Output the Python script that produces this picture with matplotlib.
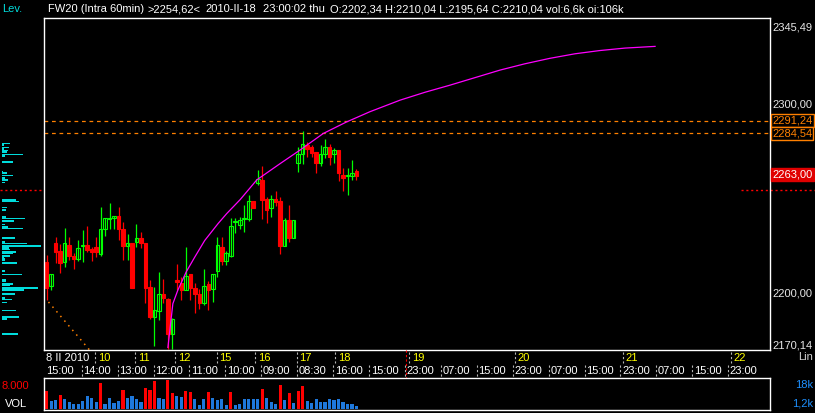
import matplotlib
matplotlib.use('Agg')
import matplotlib.pyplot as plt

plt.rcParams['font.family'] = ['Liberation Sans', 'DejaVu Sans']

# hourly bars from 8 II 2010 15:00
opens = [2216.6, 2204.0, 2226.7, 2222.3, 2216.5, 2225.5, 2219.6, 2218.2, 2225.1, 2225.5,
         2223.4, 2224.4, 2221.1, 2234.3, 2239.4, 2239.6, 2240.8, 2234.3, 2225.1, 2226.4,
         2227.2, 2229.5, 2226.4, 2203.4, 2187.6, 2190.7, 2199.9, 2197.1, 2178.8, 2207.3,
         2205.5, 2202.0, 2210.1, 2203.1, 2199.9, 2195.0, 2205.2, 2202.34, 2211.9, 2224.6,
         2217.2, 2220.0, 2237.8, 2236.2, 2239.4, 2239.2, 2248.7, 2258.1, 2259.8, 2249.8,
         2245.4, 2249.8, 2248.7, 2224.9, 2238.7, 2229.5, 2269.0, 2273.4, 2278.3, 2277.4,
         2274.5, 2269.0, 2273.4, 2277.4, 2273.4, 2275.7, 2262.5, 2262.2, 2262.1, 2264.6]
highs = [2220.2, 2210.3, 2229.9, 2226.0, 2234.5, 2229.9, 2221.4, 2228.5, 2233.4, 2235.5,
         2224.6, 2229.9, 2245.7, 2239.8, 2247.8, 2240.8, 2245.7, 2237.8, 2231.6, 2226.6,
         2236.6, 2232.5, 2226.6, 2207.3, 2203.4, 2211.4, 2207.9, 2197.8, 2187.0, 2215.4,
         2208.7, 2224.6, 2210.3, 2205.5, 2202.6, 2213.1, 2206.6, 2210.04, 2229.9, 2229.9,
         2222.4, 2239.6, 2239.6, 2240.4, 2246.6, 2251.9, 2248.9, 2265.1, 2267.2, 2251.0,
         2251.9, 2254.0, 2250.7, 2239.9, 2246.6, 2238.7, 2277.4, 2285.7, 2280.1, 2278.3,
         2274.6, 2278.3, 2281.5, 2279.2, 2276.6, 2275.7, 2266.5, 2266.5, 2270.4, 2265.5]
lows = [2196.4, 2201.7, 2216.1, 2210.8, 2214.0, 2217.9, 2212.9, 2217.0, 2216.6, 2221.9,
        2217.2, 2219.3, 2219.6, 2230.2, 2234.3, 2234.1, 2228.5, 2217.9, 2217.5, 2202.7,
        2224.6, 2224.2, 2195.0, 2186.7, 2172.1, 2186.2, 2194.7, 2170.5, 2170.9, 2201.7,
        2196.4, 2201.7, 2196.4, 2189.7, 2192.0, 2193.8, 2191.1, 2195.64, 2208.7, 2214.9,
        2214.9, 2219.3, 2232.0, 2233.9, 2232.5, 2238.3, 2245.0, 2257.2, 2239.2, 2237.3,
        2240.4, 2246.1, 2221.1, 2224.9, 2227.2, 2229.5, 2264.2, 2268.3, 2272.1, 2272.1,
        2263.4, 2267.2, 2271.3, 2267.8, 2268.7, 2259.5, 2254.2, 2251.9, 2259.8, 2259.8]
closes = [2202.9, 2210.1, 2221.9, 2216.1, 2226.5, 2219.8, 2218.1, 2224.2, 2225.5, 2222.8,
          2221.8, 2221.8, 2234.3, 2239.6, 2239.7, 2240.8, 2234.3, 2225.1, 2226.4, 2202.9,
          2229.5, 2226.4, 2202.9, 2187.6, 2191.1, 2199.9, 2197.8, 2178.4, 2186.7, 2206.1,
          2201.7, 2209.1, 2202.9, 2199.9, 2195.0, 2204.0, 2201.7, 2210.04, 2225.5, 2217.0,
          2221.4, 2235.5, 2238.3, 2238.7, 2240.1, 2248.7, 2245.2, 2260.7, 2249.3, 2244.1,
          2249.8, 2248.4, 2224.9, 2238.7, 2229.5, 2238.7, 2273.4, 2279.2, 2276.2, 2274.3,
          2269.0, 2273.6, 2277.1, 2272.1, 2275.7, 2263.4, 2261.2, 2262.5, 2263.7, 2262.3]
volumes = [10730, 4680, 5270, 8190, 6240, 4100, 3320, 2930, 5070, 7610,
           6830, 4100, 15410, 3320, 6830, 3710, 4680, 11120, 6830, 7610,
           5850, 4100, 12290, 11120, 16380, 6830, 5850, 17360, 9560, 7610,
           7220, 10730, 10340, 6050, 2730, 5850, 10340, 6600, 5460, 5850,
           2730, 10340, 2340, 3320, 5850, 5850, 5850, 5850, 11700, 6830,
           4100, 2930, 14240, 5660, 9560, 3710, 10730, 13460, 4680, 3710,
           5850, 4490, 4100, 5850, 5460, 5850, 4490, 3320, 3320, 1950]

# projection curve (bar index, price)
curve_x = [27.0, 28.1, 29.2, 31.1, 33.0, 35.2, 38.2, 40.1, 43.1, 46.8, 52.0,
           56.4, 61.6, 66.8, 72.0, 78.7, 84.3, 89.8, 95.4, 101.0, 106.5,
           112.1, 117.7, 123.2, 128.8, 135.5]
curve_y = [2171.5, 2194.6, 2201.7, 2211.5, 2219.3, 2228.0, 2237.0, 2242.2, 2249.6, 2260.0, 2268.6,
           2275.7, 2284.5, 2290.6, 2296.0, 2302.1, 2306.3, 2310.0, 2314.0, 2318.0, 2321.3,
           2324.2, 2326.6, 2328.3, 2329.6, 2330.5]

trend_x = [0.4, 9.6]
trend_y = [2195.5, 2170.0]

levels = [2291.24, 2284.54]
level_labels = ['2291,24', '2284,54']
last_price = 2263.00
cursor_price = 2254.62
price_top, price_bottom = 2345.49, 2170.14
vol_limit = 8000

# volume at price (left column)
profile_price = [2279.2, 2278.2, 2277.1, 2276.4, 2275.5, 2274.5, 2273.4, 2272.4, 2269.2, 2264.4,
                 2263.4, 2262.3, 2261.2, 2260.5, 2259.7, 2258.6, 2249.6, 2248.6, 2245.4, 2244.3,
                 2240.6, 2239.6, 2238.5, 2236.4, 2235.3, 2234.3, 2229.5, 2227.4, 2226.4, 2225.3,
                 2224.2, 2223.2, 2222.1, 2221.1, 2220.0, 2219.3, 2218.4, 2217.4, 2216.3, 2212.1,
                 2210.0, 2207.3, 2206.3, 2205.2, 2204.2, 2203.1, 2202.0, 2199.9, 2197.8, 2196.8,
                 2195.2, 2191.0, 2187.8, 2186.7, 2178.8]
profile_size = [8, 2, 7, 2, 6, 5, 21, 3, 11, 1,
                5, 11, 3, 3, 6, 3, 14, 17, 5, 4,
                4, 23, 12, 3, 6, 21, 13, 3, 25, 39,
                7, 8, 14, 11, 8, 2, 3, 3, 15, 3,
                20, 4, 4, 11, 8, 36, 22, 13, 3, 10,
                5, 14, 17, 5, 16]

time_labels = ['15:00', '14:00', '13:00', '12:00', '11:00', '10:00', '09:00', '08:30', '16:00', '15:00',
               '23:00', '07:00', '15:00', '23:00', '07:00', '15:00', '23:00', '07:00', '15:00', '23:00']
bars_per_tick = 8
day_labels = ['10', '11', '12', '15', '16', '17', '18', '19', '20', '21', '22']
day_pos = [10.8, 19.7, 28.6, 37.9, 46.4, 55.7, 64.2, 80.8, 104.3, 128.3, 152.4]

W, H = 815, 413
RED = '#ff0000'
GREEN = '#00ff00'
BLUE = '#1e78dc'
ORANGE = '#ff8000'
CYAN = '#00dcdc'
YELLOW = '#ffff00'
GREY = '#b4b4b4'
FS = 8

fig = plt.figure(figsize=(W / 100, H / 100), dpi=100, facecolor='black')


def box(x0, y0, x1, y1):
    return [x0 / W, 1 - y1 / H, (x1 - x0) / W, (y1 - y0) / H]


def ftext(x, y, s, **kw):
    kw.setdefault('fontsize', FS)
    kw.setdefault('va', 'center')
    fig.text(x / W, 1 - y / H, s, **kw)


xlim = (-0.6, 161.1)

# main price panel
ax = fig.add_axes(box(44, 18, 770, 350))
ax.set_facecolor('black')
for sp in ax.spines.values():
    sp.set_color('white')
    sp.set_linewidth(1)
ax.set_xticks([])
ax.set_yticks([])
ax.set_xlim(*xlim)
ax.set_ylim(price_bottom, price_top)

idx = list(range(len(opens)))
up = [c >= o for o, c in zip(opens, closes)]
col = [GREEN if u else RED for u in up]
ax.vlines(idx, lows, highs, colors=col, lw=0.9)
bottoms = [min(o, c) for o, c in zip(opens, closes)]
heights = [max(abs(c - o), 0.6) for o, c in zip(opens, closes)]
ax.bar(idx, heights, bottom=bottoms, width=0.8,
       color=['black' if u else RED for u in up], edgecolor=col, linewidth=0.8)

for lv in levels:
    ax.axhline(lv, color=ORANGE, lw=0.9, ls=(0, (3, 3)))
ax.plot(curve_x, curve_y, color='#ff00ff', lw=0.9)
ax.plot(trend_x, trend_y, color=ORANGE, lw=1.1, ls=(0, (1, 3)))

# right price scale
yt = ax.get_yaxis_transform()
xl = (772 - 44) / 726
ftext(772, 27, '2345,49', color='#e6e6e6')
ftext(772, 345, '2170,14', color='#e6e6e6')
ax.text(xl, 2300, '2300,00', transform=yt, color='#e6e6e6', fontsize=FS, va='center', clip_on=False)
ax.text(xl, 2200, '2200,00', transform=yt, color='#e6e6e6', fontsize=FS, va='center', clip_on=False)
for lv, lab in zip(levels, level_labels):
    ax.text(xl, lv, lab, transform=yt, color=ORANGE, fontsize=FS, va='center', clip_on=False,
            bbox=dict(boxstyle='square,pad=0.12', fc='black', ec=ORANGE, lw=1))
ax.text(xl, last_price, f'{last_price:.2f}'.replace('.', ','), transform=yt, color='white',
        fontsize=FS, va='center', clip_on=False,
        bbox=dict(boxstyle='square,pad=0.12', fc='#e00000', ec='#e00000', lw=1))
ax.plot([0.96, 1.062], [cursor_price] * 2, transform=yt, clip_on=False,
        color=RED, lw=1, ls=(0, (1.5, 2)))

# left volume profile
axl = fig.add_axes(box(0, 18, 44, 350))
axl.set_facecolor('black')
axl.axis('off')
axl.set_xlim(0, 44)
axl.set_ylim(price_bottom, price_top)
axl.barh(profile_price, profile_size, left=2, height=1.0, color=CYAN)
axl.plot([0, 44], [cursor_price] * 2, color=RED, lw=1, ls=(0, (1.5, 2)))

# time axis strip
axt = fig.add_axes(box(44, 350, 770, 378))
axt.set_facecolor('black')
axt.axis('off')
axt.set_xlim(*xlim)
axt.set_ylim(28, 0)
ticks = [i * bars_per_tick for i in range(len(time_labels))]
axt.vlines([t - 0.2 for t in ticks[1:]], 15, 27, colors=GREY, lw=0.8, linestyles=(0, (2, 2)))
axt.vlines(day_pos, 1.5, 12.5, colors=GREY, lw=0.8, linestyles=(0, (2, 2)))
axt.vlines(80.1, 0, 28, colors=RED, lw=0.8, linestyles=(0, (2, 2)))
for t, lab in zip(ticks, time_labels):
    axt.text(t + 0.15 if t else -0.2, 21, lab, color='white', fontsize=FS, va='center')
axt.text(-0.2, 8, '8 II 2010', color='white', fontsize=FS, va='center')
for d, lab in zip(day_pos, day_labels):
    axt.text(d + 0.6, 8, lab, color=YELLOW, fontsize=FS, va='center')

# volume panel
axv = fig.add_axes(box(44, 378, 770, 410))
axv.set_facecolor('black')
for sp in axv.spines.values():
    sp.set_color('white')
    sp.set_linewidth(1)
axv.set_xticks([])
axv.set_yticks([])
axv.set_xlim(*xlim)
axv.set_ylim(-300, 18300)
axv.bar(idx, volumes, width=0.7, color=[RED if v > vol_limit else BLUE for v in volumes])

# header and side labels
ftext(2, 9, 'Lev.', color=CYAN)
ftext(48, 9, 'FW20 (Intra 60min)', color='white')
ftext(148, 9, f'>{cursor_price:.2f}<'.replace('.', ','), color='white')
ftext(205, 9, '2010-II-18', color='white')
ftext(263, 9, '23:00:02 thu', color='white')
ftext(330, 9, 'O:2202,34 H:2210,04 L:2195,64 C:2210,04 vol:6,6k oi:106k', color='white')
ftext(813, 357, 'Lin', color='#d2d2d2', ha='right')
ftext(813, 385, '18k', color='#1e90ff', ha='right')
ftext(813, 404, '1,2k', color='#1e90ff', ha='right')
ftext(2, 386, '8.000', color=RED)
ftext(5, 404, 'VOL', color='white')

fig.savefig('out.png', dpi=100, facecolor='black')
